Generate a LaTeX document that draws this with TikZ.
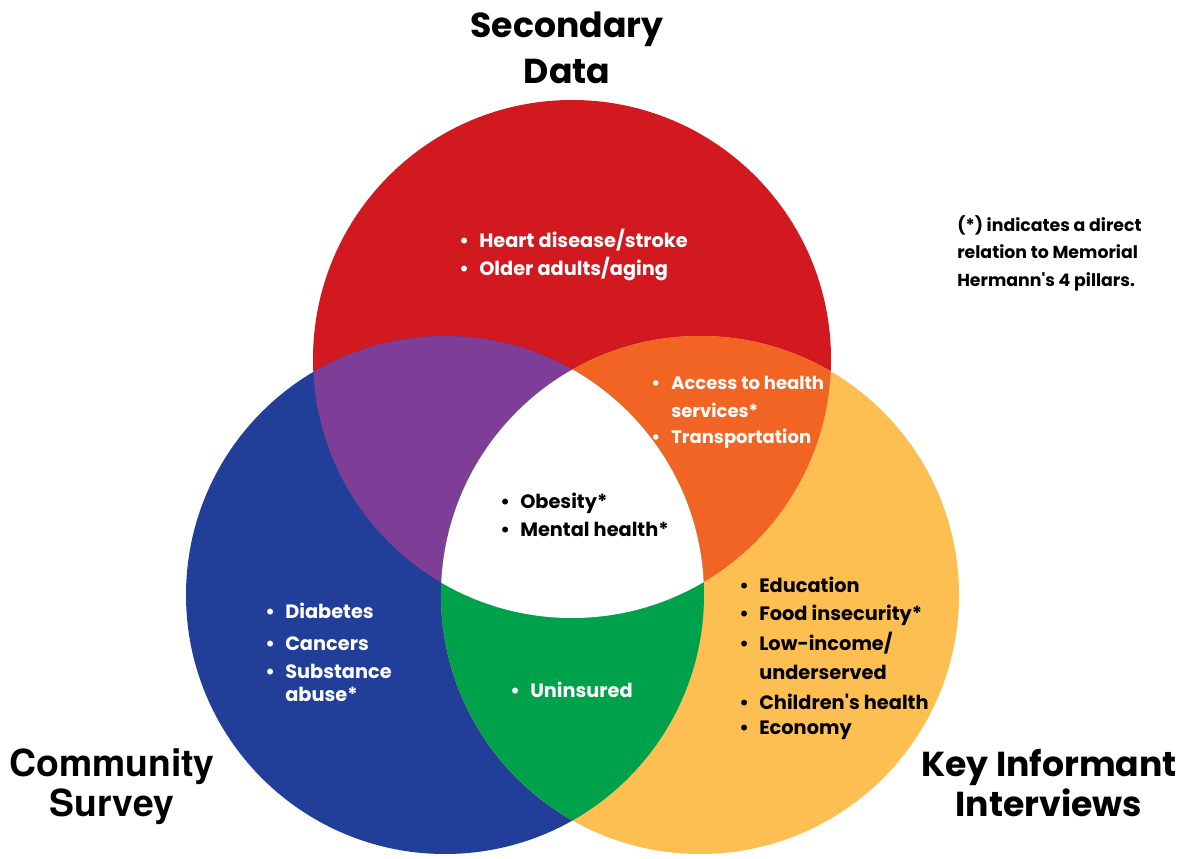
\documentclass[tikz,border=0pt]{standalone}
\usepackage{fontspec}
\setmainfont{Poppins}
\newfontfamily\titlefont{Poppins}
\newfontfamily\heavyfont{TeX Gyre Heros}
\newfontfamily\nomapfont{Poppins}[Ligatures=TeXOff]
\definecolor{cred}{HTML}{D1191F}
\definecolor{cblue}{HTML}{213F99}
\definecolor{cyel}{HTML}{FDBE52}
\definecolor{cpurp}{HTML}{7E3E98}
\definecolor{corange}{HTML}{F26424}
\definecolor{cgreen}{HTML}{00A14B}
\newcommand{\bul}{\makebox[15pt][l]{•}}
\newcommand{\nob}{\hspace*{15pt}}
\newcommand{\apos}{{\nomapfont\bfseries'}}
\begin{document}
\begin{tikzpicture}[x=0.75pt,y=-0.75pt,
  item/.style={anchor=base west,inner sep=0pt,font=\fontsize{14.5}{18}\selectfont\bfseries},
  wtext/.style={item,text=white},
  btext/.style={item,text=black},
  otext/.style={wtext,font=\fontsize{13.5}{16}\selectfont\bfseries},
  ttl/.style={anchor=base,inner sep=0pt,font=\titlefont\fontsize{26}{30}\selectfont\bfseries},
  ttlheavy/.style={anchor=base,inner sep=0pt,font=\heavyfont\fontsize{28}{30}\selectfont\bfseries},
  notetext/.style={anchor=base west,inner sep=0pt,font=\fontsize{13}{16}\selectfont\bfseries}]
\useasboundingbox[fill=white] (0,0) rectangle (1186,859);
\def\RC{(572,359) circle (259)}
\def\BC{(445,595) circle (259)}
\def\YC{(700,595) circle (259)}
% base circles
\fill[cred] \RC;
\fill[cblue] \BC;
\fill[cyel] \YC;
% pairwise intersections
\begin{scope}\clip \RC; \fill[cpurp] \BC; \end{scope}
\begin{scope}\clip \RC; \fill[corange] \YC; \end{scope}
\begin{scope}\clip \BC; \fill[cgreen] \YC; \end{scope}
\begin{scope}\clip \RC; \clip \BC; \fill[white] \YC; \end{scope}
% titles
\node[ttl] (t1) at (567,38) {Secondary};
\node[ttl] (t2) at (567,84) {Data};
\node[ttlheavy] (t3) at (112,776) {Community};
\node[ttlheavy] (t4) at (112,816) {Survey};
\node[ttl] (t5) at (1049,776) {Key Informant};
\node[ttl] (t6) at (1049,816) {Interviews};
% note
\node[notetext] (n1) at (957,232) {(*) indicates a direct};
\node[notetext] (n2) at (957,259) {relation to Memorial};
\node[notetext] (n3) at (957,287) {Hermann\apos s 4 pillars.};
% red
\node[wtext] (r1) at (459,248) {\bul Heart disease/stroke};
\node[wtext] (r2) at (459,276) {\bul Older adults/aging};
% orange
\node[otext] (o1) at (651,390) {\bul Access to health};
\node[otext] (o2) at (651,417) {\nob services*};
\node[otext] (o3) at (651,444) {\bul Transportation};
% white
\node[btext] (w1) at (500,508) {\bul Obesity*};
\node[btext] (w2) at (500,536) {\bul Mental health*};
% blue
\node[wtext] (b1) at (265,618) {\bul Diabetes};
\node[wtext] (b2) at (265,650) {\bul Cancers};
\node[wtext] (b3) at (265,678) {\bul Substance};
\node[wtext] (b4) at (265,701) {\nob abuse*};
% green
\node[wtext] (g1) at (510,697) {\bul Uninsured};
% yellow
\node[btext] (y1) at (739,592) {\bul Education};
\node[btext] (y2) at (739,620) {\bul Food insecurity*};
\node[btext] (y3) at (739,650) {\bul Low-income/};
\node[btext] (y4) at (739,679) {\nob underserved};
\node[btext] (y5) at (739,709) {\bul Children\apos s health};
\node[btext] (y6) at (739,734) {\bul Economy};
\end{tikzpicture}
\end{document}
